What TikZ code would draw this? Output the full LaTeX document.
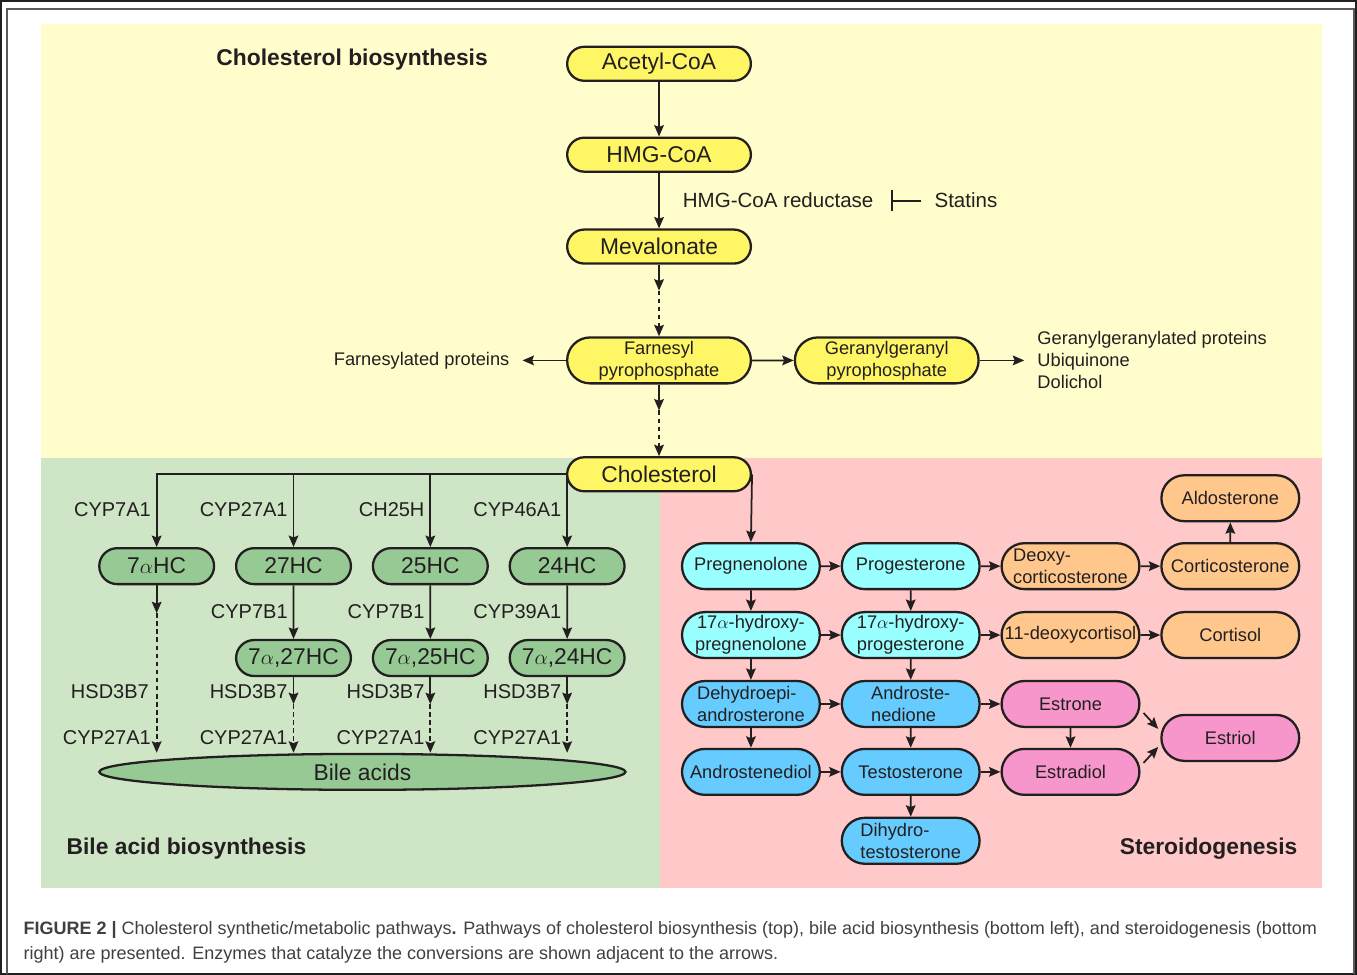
\documentclass[tikz,border=0pt]{standalone}
\usepackage{fontspec}
\setmainfont{Liberation Sans}
\usetikzlibrary{shapes.misc,shapes.geometric,arrows.meta,positioning,calc}

\definecolor{bgyellow}{RGB}{255,253,204}
\definecolor{bggreen}{RGB}{206,230,197}
\definecolor{bgpink}{RGB}{255,201,201}
\definecolor{nyellow}{RGB}{255,246,102}
\definecolor{ngreen}{RGB}{150,201,148}
\definecolor{ncyan}{RGB}{153,255,255}
\definecolor{nblue}{RGB}{102,204,255}
\definecolor{norange}{RGB}{255,199,140}
\definecolor{npink}{RGB}{247,150,203}
\definecolor{ink}{RGB}{35,31,32}

\begin{document}
\begin{tikzpicture}[x=0.02cm,y=-0.02cm,
  >={Stealth[length=6.5pt,width=5.5pt,inset=1pt]},
  every node/.style={text=ink},
  every path/.style={draw=ink, line width=1pt},
  pill/.style={rounded rectangle, draw=ink, line width=1.3pt, inner sep=0pt},
  ybox/.style={pill, fill=nyellow, minimum width=3.68cm, minimum height=0.68cm, font=\fontsize{13}{15}\selectfont},
  ybox2/.style={ybox, minimum height=0.92cm, align=center, font=\fontsize{10.4}{12.5}\selectfont},
  gbox/.style={pill, fill=ngreen, minimum width=2.3cm, minimum height=0.72cm, font=\fontsize{13}{15}\selectfont},
  sbox/.style={pill, fill=#1, minimum width=2.76cm, minimum height=0.92cm, align=left, font=\fontsize{10.4}{12.5}\selectfont},
  enz/.style={anchor=east, inner sep=0pt, font=\fontsize{11.4}{13}\selectfont},
  plain/.style={inner sep=0pt, font=\fontsize{10.4}{12.5}\selectfont},
  title/.style={inner sep=0pt, font=\fontsize{13}{15}\selectfont\bfseries},
  dotarr/.style={->, dash pattern=on 2.6pt off 2pt}
]
\useasboundingbox (0,0) rectangle (1357,974);

% panels
\fill[bgyellow, draw=none] (40,23) rectangle (1323,458);
\fill[bggreen, draw=none] (40,458) rectangle (660,888);
\fill[bgpink, draw=none] (660,458) rectangle (1323,888);
\draw[black!65, line width=0.8pt] (6,974) -- (6,8) -- (1355,8) -- (1355,974);

% cholesterol biosynthesis
\node[title, anchor=west] (ttop) at (215,59) {Cholesterol biosynthesis};
\node[ybox] (acetyl) at (659,63) {Acetyl-CoA};
\node[ybox] (hmg) at (659,154) {HMG-CoA};
\node[ybox] (meva) at (659,246) {Mevalonate};
\node[ybox2] (farn) at (659,360) {Farnesyl\\pyrophosphate};
\node[ybox2] (gera) at (887,360) {Geranylgeranyl\\pyrophosphate};
\node[ybox] (chol) at (659,474) {Cholesterol};

\node[plain, font=\fontsize{11.7}{14}\selectfont, anchor=west] (hmgr) at (682,200) {HMG-CoA reductase};
\node[plain, font=\fontsize{11.7}{14}\selectfont, anchor=west] (stat) at (934,200) {Statins};
\node[plain, anchor=east] (fprot) at (510,360) {Farnesylated proteins};
\node[plain, anchor=west, align=left] (gprod) at (1037,360) {Geranylgeranylated proteins\\Ubiquinone\\Dolichol};

\draw[->] (acetyl) -- (hmg);
\draw[->] (hmg) -- (meva);
\draw[-{Bar[width=12pt]}, line width=1.2pt, shorten <=7pt, shorten >=9.5pt] (stat.west) -- (hmgr.east);
\draw[->] (meva.south) -- ++(0,26) coordinate (m1);
\draw[dotarr] (m1) -- (farn.north);
\draw[->] (farn.south) -- ++(0,26) coordinate (f1);
\draw[dotarr] (f1) -- (chol.north);
\draw[->, shorten >=7pt] (farn.west) -- (fprot.east);
\draw[->] (farn) -- (gera);
\draw[->, shorten >=7pt] (gera.east) -- (gprod.west);

% bile acid biosynthesis
\node[title, anchor=west] (tbile) at (65,849) {Bile acid biosynthesis};
\node[gbox] (c7a) at (156,566) {7$\alpha$HC};
\node[gbox] (c27) at (293,566) {27HC};
\node[gbox] (c25) at (430,566) {25HC};
\node[gbox] (c24) at (567,566) {24HC};
\node[gbox] (c727) at (293,658) {7$\alpha$,27HC};
\node[gbox] (c725) at (430,658) {7$\alpha$,25HC};
\node[gbox] (c724) at (567,658) {7$\alpha$,24HC};
\node[ellipse, draw=ink, line width=1.3pt, fill=ngreen, minimum width=10.54cm, minimum height=0.72cm, inner sep=0pt, font=\fontsize{13}{15}\selectfont] (bile) at (362,772) {Bile acids};

\draw[->] (chol.west) -| (c7a.north);
\draw[->] (chol.west -| c27) -- (c27.north);
\draw[->] (chol.west -| c25) -- (c25.north);
\draw[->] (chol.west -| c24) -- (c24.north);
\draw[->] (c27) -- (c727);
\draw[->] (c25) -- (c725);
\draw[->] (c24) -- (c724);
\draw[->] (c7a.south) -- ++(0,28) coordinate (b1);
\draw[dotarr] (b1) -- (c7a |- bile.north);
\draw[->] (c727.south) -- ++(0,27) coordinate (b2);
\draw[dotarr] (b2) -- (c727 |- bile.north);
\draw[->] (c725.south) -- ++(0,27) coordinate (b3);
\draw[dotarr] (b3) -- (c725 |- bile.north);
\draw[->] (c724.south) -- ++(0,27) coordinate (b4);
\draw[dotarr] (b4) -- (c724 |- bile.north);

\node[enz] (e1) at (151,509) {CYP7A1};
\node[enz] (e2) at (288,509) {CYP27A1};
\node[enz] (e3) at (425,509) {CH25H};
\node[enz] (e4) at (562,509) {CYP46A1};
\node[enz] (e5) at (288,612) {CYP7B1};
\node[enz] (e6) at (425,612) {CYP7B1};
\node[enz] (e7) at (562,612) {CYP39A1};
\node[enz] (h1) at (149,692) {HSD3B7};
\node[enz] (h2) at (288,692) {HSD3B7};
\node[enz] (h3) at (425,692) {HSD3B7};
\node[enz] (h4) at (562,692) {HSD3B7};
\node[enz] (k1) at (151,738) {CYP27A1};
\node[enz] (k2) at (288,738) {CYP27A1};
\node[enz] (k3) at (425,738) {CYP27A1};
\node[enz] (k4) at (562,738) {CYP27A1};

% steroidogenesis
\node[title, anchor=east] (tster) at (1299,849) {Steroidogenesis};
\node[sbox=ncyan] (preg) at (751,566) {Pregnenolone};
\node[sbox=ncyan] (prog) at (911,566) {Progesterone};
\node[sbox=norange] (doc) at (1071,566) {Deoxy-\\corticosterone};
\node[sbox=norange] (corti) at (1231,566) {Corticosterone};
\node[sbox=norange] (aldo) at (1231,498) {Aldosterone};
\node[sbox=ncyan, align=center] (ohpreg) at (751,635) {17$\alpha$-hydroxy-\\pregnenolone};
\node[sbox=ncyan, align=center] (ohprog) at (911,635) {17$\alpha$-hydroxy-\\progesterone};
\node[sbox=norange] (dcort) at (1071,635) {11-deoxycortisol};
\node[sbox=norange] (cortisol) at (1231,635) {Cortisol};
\node[sbox=nblue] (dhea) at (751,704) {Dehydroepi-\\androsterone};
\node[sbox=nblue] (adione) at (911,704) {Androste-\\nedione};
\node[sbox=npink] (estrone) at (1071,704) {Estrone};
\node[sbox=npink] (estriol) at (1231,738) {Estriol};
\node[sbox=nblue] (adiol) at (751,772) {Androstenediol};
\node[sbox=nblue] (testo) at (911,772) {Testosterone};
\node[sbox=npink] (estradiol) at (1071,772) {Estradiol};
\node[sbox=nblue] (dht) at (911,841) {Dihydro-\\testosterone};

\draw[->] (chol.east) -- (preg.north);
\draw[->] (preg) -- (prog);
\draw[->] (prog) -- (doc);
\draw[->] (doc) -- (corti);
\draw[->] (corti) -- (aldo);
\draw[->] (ohpreg) -- (ohprog);
\draw[->] (ohprog) -- (dcort);
\draw[->] (dcort) -- (cortisol);
\draw[->] (dhea) -- (adione);
\draw[->] (adione) -- (estrone);
\draw[->] (adiol) -- (testo);
\draw[->] (testo) -- (estradiol);
\draw[->] (preg) -- (ohpreg);
\draw[->] (ohpreg) -- (dhea);
\draw[->] (dhea) -- (adiol);
\draw[->] (prog) -- (ohprog);
\draw[->] (ohprog) -- (adione);
\draw[->] (adione) -- (testo);
\draw[->] (testo) -- (dht);
\draw[->] (estrone) -- (estradiol);
\draw[->] ([shift={(3,9)}]estrone.east) -- ([shift={(-2,-9)}]estriol.west);
\draw[->] ([shift={(3,-9)}]estradiol.east) -- ([shift={(-2,9)}]estriol.west);

% caption
\node[anchor=north west, align=left, inner sep=0pt, text=black!75, font=\fontsize{10.25}{14.4}\selectfont] (cap) at (22,921)
  {\textbf{FIGURE 2 |} Cholesterol synthetic/metabolic pathways\textbf{.} Pathways of cholesterol biosynthesis (top), bile acid biosynthesis (bottom left), and steroidogenesis (bottom\\
   right) are presented. Enzymes that catalyze the conversions are shown adjacent to the arrows.};
\end{tikzpicture}
\end{document}
